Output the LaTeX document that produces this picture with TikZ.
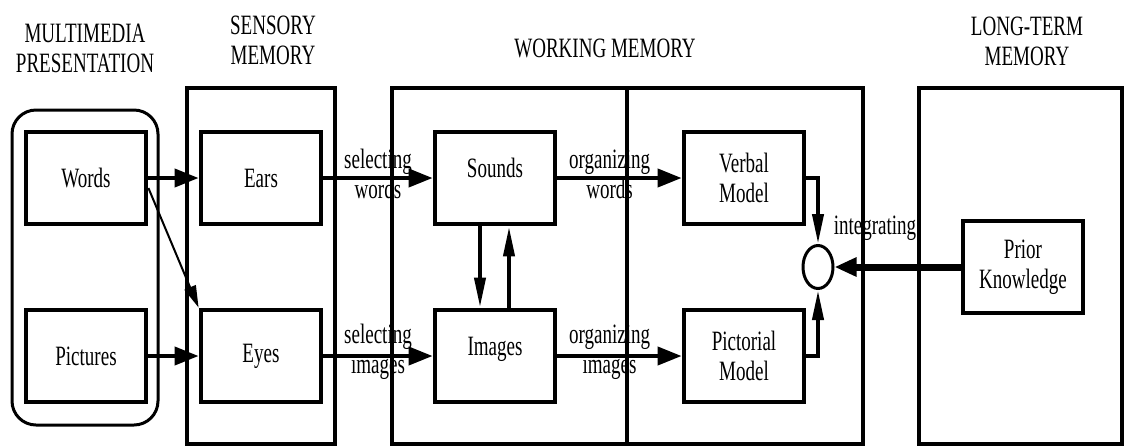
\documentclass[tikz,border=0pt]{standalone}
\usepackage{fontspec}
\setmainfont{Liberation Serif}[FakeStretch=0.68]
\usetikzlibrary{arrows.meta}
\usetikzlibrary{shapes.geometric}

\begin{document}
\begin{tikzpicture}[x=0.5pt, y=-0.5pt,
  every node/.style={font=\fontsize{14}{15}\selectfont, align=center, inner sep=0pt},
  box/.style={draw, line width=2.4pt, minimum width=60pt, minimum height=46pt},
  boxup/.style={box, text depth=10pt},
  frame/.style={line width=2pt},
  flow/.style={line width=2pt, -{Triangle[length=12pt,width=9pt]}},
  vflow/.style={line width=2pt, -{Triangle[length=15pt,width=5.5pt]}},
  lbl/.style={yshift=2pt}]
\useasboundingbox (0,0) rectangle (1125,446);

% titles
\node (mmtitle) at (85,48) {MULTIMEDIA\\PRESENTATION};
\node (smtitle) at (273,40) {SENSORY\\MEMORY};
\node (wmtitle) at (605,48) {WORKING MEMORY};
\node (ltmtitle) at (1027,41) {LONG-TERM\\MEMORY};

% frames
\draw[line width=1.5pt, rounded corners=12pt] (12,110) rectangle (158,425);
\draw[frame] (187,88) rectangle (335,444);
\draw[frame] (392,88) rectangle (863,444);
\draw[frame] (627,88) -- (627,444);
\draw[frame] (919,88) rectangle (1122,444);

% boxes
\node[box] (words) at (86,178) {Words};
\node[box] (pictures) at (86,356) {Pictures};
\node[box] (ears) at (261,178) {Ears};
\node[box] (eyes) at (261,356) {Eyes};
\node[boxup] (sounds) at (495,178) {Sounds};
\node[boxup] (images) at (495,356) {Images};
\node[box] (verbal) at (744,178) {Verbal\\Model};
\node[box] (pictorial) at (744,356) {Pictorial\\Model};
\node[box] (prior) at (1023,267) {Prior\\Knowledge};
\node[draw, ellipse, line width=1.5pt, minimum width=15pt, minimum height=21.5pt] (integ) at (818,267) {};

% arrows
\draw[flow] (words) -- (ears);
\draw[line width=1pt, -{Triangle[length=11pt,width=6pt]}] ([yshift=-5pt]words.east) -- (eyes.north west);
\draw[flow] (pictures) -- (eyes);
\draw[flow] (ears) -- node[lbl] (selw) {selecting\\words} (sounds);
\draw[flow] (eyes) -- node[lbl] (seli) {selecting\\images} (images);
\draw[flow] (sounds) -- node[lbl, pos=0.42] (orgw) {organizing\\words} (verbal);
\draw[flow] (images) -- node[lbl, pos=0.42] (orgi) {organizing\\images} (pictorial);
\draw[vflow] ([xshift=-7.5pt]sounds.south) -- ([xshift=-7.5pt]images.north);
\draw[vflow] ([xshift=7pt]images.north) -- ([xshift=7pt]sounds.south);
\draw[vflow] (verbal.east) -| (integ.north);
\draw[vflow] (pictorial.east) -| (integ.south);
\draw[line width=3.5pt, -{Triangle[length=11pt,width=9pt]}] (prior) -- (integ);
\node (intlbl) at (875,228) {integrating};
\end{tikzpicture}
\end{document}
